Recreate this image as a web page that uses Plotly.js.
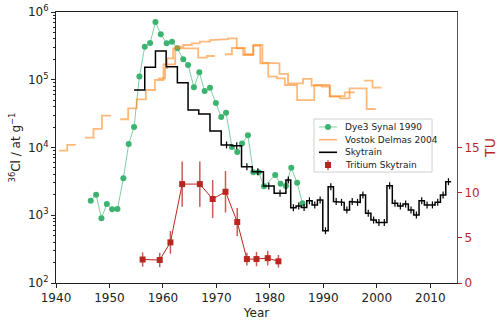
<!DOCTYPE html>
<html>
<head>
<meta charset="utf-8">
<script src="https://cdn.plot.ly/plotly-3.0.1.min.js"></script>
<style>
  body { margin: 0; background: #fff; }
  #plot { width: 500px; height: 323px; }
</style>
</head>
<body>
<div id="plot"></div>
<script>
// Dye3 (Synal 1990), 36Cl in at/g
const dyeYears = [1946.5, 1947.5, 1948.5, 1949.5, 1950.5, 1951.5, 1952.6, 1953.6, 1954.6, 1955.6,
    1956.6, 1957.6, 1958.6, 1959.6, 1960.7, 1961.7, 1962.7, 1963.8, 1964.7, 1965.8,
    1966.8, 1967.8, 1968.8, 1969.9, 1970.9, 1971.8, 1972.9, 1973.9, 1974.8, 1975.9,
    1976.9, 1977.9, 1978.9, 1981.0, 1982.0, 1983.0, 1984.0, 1985.1, 1986.1];
const dyeValues = [1640, 2010, 900, 1465, 1225, 1235, 3510, 11270, 20100, 112000,
    307000, 348000, 711000, 469000, 345000, 365000, 291000, 200000, 165000, 77400,
    129000, 68200, 76400, 45400, 28200, 32600, 10200, 8590, 11500, 15100,
    4300, 4300, 2670, 3930, 2920, 2700, 5030, 3020, 1500];

// Vostok (Delmas 2004), two step profiles: segment start, end, value
const vosAStart = [1940.6, 1942.1, 1945.4, 1947.0, 1948.6, 1952.0, 1953.5, 1955.1, 1956.8, 1958.5,
    1960.1, 1962.3, 1963.8, 1965.4, 1966.9, 1968.8, 1970.4, 1972.2, 1973.8, 1975.0,
    1976.9, 1978.6, 1980.0, 1981.8, 1983.4, 1986.2, 1987.8, 1989.7, 1991.2, 1993.1,
    1994.9, 1998.1];
const vosAEnd = [1942.1, 1943.7, 1947.0, 1948.6, 1950.3, 1953.5, 1955.1, 1956.8, 1958.5, 1960.1,
    1962.3, 1963.8, 1965.4, 1966.9, 1968.8, 1970.4, 1972.2, 1973.8, 1975.0, 1976.9,
    1978.6, 1980.0, 1981.8, 1983.4, 1986.2, 1987.8, 1989.7, 1991.2, 1993.1, 1994.9,
    1998.1, 1999.8];
const vosAValues = [8970, 10900, 13950, 18800, 29500, 26100, 37900, 51500, 70600, 99100,
    169000, 307000, 326000, 345000, 365000, 386000, 396000, 409000, 291000, 232000,
    326000, 179000, 175000, 122000, 88600, 103000, 81700, 78900, 56200, 53200,
    74800, 37000];

const vosBStart = [1959.1, 1960.4, 1960.8, 1961.9, 1966.6, 1968.2, 1971.6, 1972.9, 1975.3, 1976.9,
    1978.2, 1979.7, 1981.3, 1982.8, 1985.1, 1988.3, 1991.2, 1994.0, 1997.6, 1999.2];
const vosBEnd = [1960.4, 1960.8, 1961.9, 1966.6, 1968.2, 1969.7, 1972.9, 1975.3, 1976.9, 1978.2,
    1979.7, 1981.3, 1982.8, 1985.1, 1988.3, 1991.2, 1994.0, 1995.9, 1999.2, 2000.9];
const vosBValues = [105000, 148000, 207000, 291000, 212000, 224000, 238000, 294000, 238000, 318000,
    175000, 111000, 105000, 83700, 50200, 83700, 57500, 65300, 96800, 76300];

// Skytrain 36Cl, bin edges and values
const skyEdges = [1954.6, 1956.6, 1958.6, 1960.6, 1962.7, 1964.7, 1966.7, 1968.8, 1970.9, 1972.9,
    1974.7, 1976.7, 1978.8, 1980.8, 1983.0, 1983.9, 1984.9, 1985.9, 1986.9, 1987.9,
    1988.9, 1989.9, 1990.9, 1991.9, 1992.9, 1993.9, 1994.9, 1995.9, 1996.9, 1997.9,
    1998.9, 1999.9, 2000.9, 2001.9, 2002.9, 2003.9, 2004.9, 2005.9, 2006.9, 2007.9,
    2008.9, 2009.9, 2010.9, 2011.9, 2012.9, 2013.9];
const skyValues = [70600, 153000, 266000, 156000, 90400, 35700, 31200, 17500, 10900, 10600,
    5210, 4390, 2700, 2110, 3310, 1290, 1370, 1300, 1640, 1420,
    1680, 590, 2640, 1590, 1550, 1200, 1590, 1550, 1990, 1070,
    850, 780, 780, 2730, 1500, 1370, 1470, 1200, 1010, 1640,
    1420, 1420, 1550, 1990, 3130];

// Tritium Skytrain, TU
const triYears = [1956.2, 1959.4, 1961.4, 1963.6, 1966.9, 1969.3, 1971.7, 1973.9, 1975.7, 1977.5, 1979.6, 1981.6];
const triValues = [2.6, 2.55, 4.5, 10.95, 10.95, 9.3, 10.1, 6.75, 2.65, 2.65, 2.75, 2.4];
const triErrors = [0.8, 0.8, 1.25, 2.5, 2.5, 2.1, 2.3, 1.55, 0.7, 0.8, 0.8, 0.7];

const yTicks = [100, 1000, 10000, 100000, 1000000];
const yTickText = ['10<sup>2</sup>', '10<sup>3</sup>', '10<sup>4</sup>', '10<sup>5</sup>', '10<sup>6</sup>'];
const xTicks = [1940, 1950, 1960, 1970, 1980, 1990, 2000, 2010];
const tuTicks = [0, 5, 10, 15];

const legendNames = ['Dye3 Synal 1990', 'Vostok Delmas 2004', 'Skytrain', 'Tritium Skytrain'];

// segments -> polyline, with a break wherever segments do not touch
function stepPath(starts, ends, values) {
    const x = [], y = [];
    for (let i = 0; i < values.length; i++) {
        if (i > 0 && Math.abs(starts[i] - ends[i - 1]) > 0.01) {
            x.push(null); y.push(null);
        }
        x.push(starts[i], ends[i]);
        y.push(values[i], values[i]);
    }
    return { x, y };
}

const vosA = stepPath(vosAStart, vosAEnd, vosAValues);
const vosB = stepPath(vosBStart, vosBEnd, vosBValues);
const sky = stepPath(skyEdges.slice(0, -1), skyEdges.slice(1), skyValues);
// uncertainty ticks are only visible on the later, narrower bins
const skyCenters = skyValues.map((v, i) => (skyEdges[i] + skyEdges[i + 1]) / 2).slice(8);

const green = '#3cb371';
const orange = 'rgba(255,127,14,0.55)';
const red = '#b8261f';
const font = 'DejaVu Sans, Verdana, sans-serif';

const data = [
    {
        x: dyeYears, y: dyeValues,
        type: 'scatter', mode: 'lines+markers',
        line: { color: 'rgba(60,179,113,0.65)', width: 1 },
        marker: { color: green, size: 6 },
        name: legendNames[0]
    },
    {
        x: vosA.x, y: vosA.y,
        type: 'scatter', mode: 'lines',
        line: { color: orange, width: 1.8 },
        name: legendNames[1]
    },
    {
        x: vosB.x, y: vosB.y,
        type: 'scatter', mode: 'lines',
        line: { color: orange, width: 1.8 },
        name: legendNames[1]
    },
    {
        x: sky.x, y: sky.y,
        type: 'scatter', mode: 'lines',
        line: { color: 'black', width: 1.5 },
        name: legendNames[2]
    },
    {
        x: skyCenters, y: skyValues.slice(8),
        type: 'scatter', mode: 'markers',
        marker: { symbol: 'line-ns-open', size: 5, color: 'black', line: { width: 1.2, color: 'black' } },
        hoverinfo: 'skip'
    },
    {
        x: triYears, y: triValues,
        type: 'scatter', mode: 'lines+markers',
        yaxis: 'y2',
        line: { color: red, width: 1 },
        marker: { color: red, size: 6, symbol: 'square' },
        error_y: { type: 'data', array: triErrors, visible: true, color: 'rgba(184,38,31,0.75)', thickness: 1.5, width: 0 },
        name: legendNames[3]
    }
];

// hand-built legend (matplotlib-style compact box), in paper coordinates
const px = v => (v - 56) / 401;
const py = v => (283 - v) / 271;
const rowY = [127, 139.7, 152.3, 165];
const shapes = [
    { type: 'rect', xref: 'paper', yref: 'paper', x0: px(314), x1: px(432), y0: py(172), y1: py(119),
      fillcolor: 'rgba(255,255,255,0.9)', line: { color: '#d0d0d0', width: 1 }, layer: 'above' }
];
const lineColors = ['rgba(60,179,113,0.65)', 'rgba(255,127,14,0.6)', 'black', red];
rowY.forEach((r, i) => {
    if (i < 3) {
        shapes.push({ type: 'line', xref: 'paper', yref: 'paper', x0: px(319), x1: px(337), y0: py(r), y1: py(r),
            line: { color: lineColors[i], width: i === 0 ? 1 : 1.6 }, layer: 'above' });
    }
});
shapes.push({ type: 'circle', xref: 'paper', yref: 'paper', xsizemode: 'pixel', ysizemode: 'pixel',
    xanchor: px(328), yanchor: py(rowY[0]), x0: -3, x1: 3, y0: -3, y1: 3,
    fillcolor: green, line: { width: 0 }, layer: 'above' });
shapes.push({ type: 'line', xref: 'paper', yref: 'paper', x0: px(328), x1: px(328), y0: py(rowY[3] - 5), y1: py(rowY[3] + 5),
    line: { color: 'rgba(184,38,31,0.75)', width: 1.5 }, layer: 'above' });
shapes.push({ type: 'rect', xref: 'paper', yref: 'paper', xsizemode: 'pixel', ysizemode: 'pixel',
    xanchor: px(328), yanchor: py(rowY[3]), x0: -3, x1: 3, y0: -3, y1: 3,
    fillcolor: red, line: { width: 0 }, layer: 'above' });
const annotations = legendNames.map((name, i) => ({
    xref: 'paper', yref: 'paper', x: px(343), y: py(rowY[i]),
    xanchor: 'left', yanchor: 'middle', showarrow: false,
    text: name, font: { size: 9, family: font, color: '#222' }
}));

const layout = {
    width: 500, height: 323,
    margin: { l: 56, r: 43, t: 12, b: 40 },
    paper_bgcolor: 'white', plot_bgcolor: 'white',
    font: { family: font, size: 12, color: '#222' },
    showlegend: false,
    shapes: shapes,
    annotations: annotations,
    xaxis: {
        range: [1940, 2015],
        tickvals: xTicks,
        ticks: 'outside', ticklen: 4, tickcolor: '#222',
        showline: true, linecolor: '#222', linewidth: 1, mirror: true,
        showgrid: false, zeroline: false,
        title: { text: 'Year', font: { size: 12 }, standoff: 4 }
    },
    yaxis: {
        type: 'log',
        range: [2, 6],
        tickvals: yTicks, ticktext: yTickText,
        ticks: 'outside', ticklen: 4, tickcolor: '#222',
        minor: { ticks: 'outside', ticklen: 2, tickcolor: '#222', dtick: 'D1', showgrid: false },
        showline: true, linecolor: '#222', linewidth: 1,
        showgrid: false, zeroline: false,
        title: { text: '<sup>36</sup>Cl / at g<sup>−1</sup>', font: { size: 12 }, standoff: 4 }
    },
    yaxis2: {
        overlaying: 'y', side: 'right',
        range: [0, 30],
        tickvals: tuTicks,
        ticks: 'outside', ticklen: 4, tickcolor: red,
        tickfont: { color: red, size: 12 },
        showline: true, linecolor: '#555', linewidth: 1,
        showgrid: false, zeroline: false,
        title: { text: 'TU', font: { color: red, size: 14 }, standoff: 6 }
    }
};

Plotly.newPlot('plot', data, layout, { displayModeBar: false, staticPlot: true });
</script>
</body>
</html>
